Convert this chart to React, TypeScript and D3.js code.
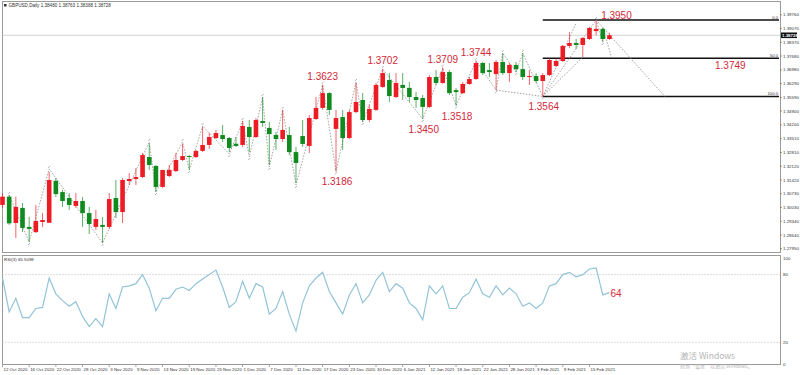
import * as d3 from "d3";
import { useEffect, useRef } from "react";

// GBPUSD daily candles (red = up, green = down)
const opens = [
  1.3016, 1.3058, 1.2925, 1.3001, 1.2905, 1.2879, 1.293, 1.2926, 1.3138, 1.3081,
  1.3051, 1.3011, 1.3036, 1.2975, 1.2905, 1.2915, 1.2905, 1.3051, 1.298, 1.3137,
  1.3147, 1.3157, 1.3258, 1.3213, 1.3107, 1.3162, 1.3187, 1.3243, 1.3263, 1.3258,
  1.3289, 1.3319, 1.3354, 1.3369, 1.3354, 1.3325, 1.3319, 1.341, 1.3359, 1.344,
  1.3405, 1.3369, 1.3349, 1.3369, 1.3283, 1.3364, 1.3314, 1.345, 1.3506, 1.3581,
  1.34, 1.346, 1.3354, 1.3485, 1.3546, 1.3445, 1.3496, 1.3612, 1.3647, 1.3561,
  1.3622, 1.3607, 1.3561, 1.3556, 1.3511, 1.3662, 1.3632, 1.3687, 1.3596, 1.3581,
  1.3627, 1.3652, 1.3733, 1.3697, 1.3677, 1.3738, 1.3682, 1.3723, 1.3702, 1.3662,
  1.3667, 1.3642, 1.3672, 1.3718, 1.3743, 1.3819, 1.3834, 1.3824, 1.3854, 1.3894,
  1.3905, 1.3854,
];
const highs = [
  1.3076, 1.3066, 1.3058, 1.3026, 1.2955, 1.3016, 1.2975, 1.3182, 1.3152, 1.3092,
  1.3076, 1.3076, 1.3056, 1.3006, 1.2991, 1.2955, 1.3076, 1.3142, 1.3152, 1.3177,
  1.3203, 1.3278, 1.3324, 1.3218, 1.3193, 1.3218, 1.3278, 1.3324, 1.3268, 1.3294,
  1.341, 1.3379, 1.3395, 1.342, 1.3359, 1.3359, 1.344, 1.3445, 1.3455, 1.3561,
  1.3435, 1.3384, 1.3496, 1.341, 1.3309, 1.3445, 1.347, 1.3561, 1.3623, 1.3586,
  1.3496, 1.3496, 1.3496, 1.3632, 1.3581, 1.3521, 1.3632, 1.3702, 1.3682, 1.3682,
  1.3682, 1.3637, 1.3586, 1.3571, 1.3672, 1.3697, 1.3709, 1.3697, 1.3607, 1.3637,
  1.3662, 1.3744, 1.3738, 1.3733, 1.3748, 1.3783, 1.3733, 1.3738, 1.3783, 1.3697,
  1.3682, 1.3682, 1.3758, 1.3758, 1.3824, 1.3889, 1.3854, 1.3864, 1.3915, 1.395,
  1.391, 1.3886,
];
const lows = [
  1.3001, 1.2915, 1.2849, 1.2879, 1.2829, 1.2874, 1.2905, 1.2925, 1.3056, 1.3006,
  1.2991, 1.3001, 1.2905, 1.2869, 1.289, 1.2824, 1.2895, 1.295, 1.2925, 1.3117,
  1.3117, 1.3152, 1.3193, 1.3081, 1.3102, 1.3157, 1.3182, 1.3238, 1.3193, 1.3253,
  1.3283, 1.3299, 1.3349, 1.3334, 1.3283, 1.3309, 1.3309, 1.3283, 1.3354, 1.341,
  1.3218, 1.3294, 1.3334, 1.3268, 1.3127, 1.3309, 1.3278, 1.3445, 1.3496, 1.347,
  1.3186, 1.3294, 1.3349, 1.348, 1.3435, 1.3435, 1.3491, 1.3607, 1.3536, 1.3556,
  1.3546, 1.3536, 1.3506, 1.345, 1.3506, 1.3622, 1.3627, 1.3571, 1.3518, 1.3576,
  1.3622, 1.3647, 1.3672, 1.3662, 1.3596, 1.3672, 1.3637, 1.3687, 1.3647, 1.3622,
  1.3632, 1.3564, 1.3667, 1.3713, 1.3738, 1.3809, 1.3804, 1.3763, 1.3849, 1.3874,
  1.3839, 1.3849,
];
const closes = [
  1.3058, 1.2923, 1.3006, 1.29, 1.2895, 1.2935, 1.294, 1.3142, 1.3071, 1.3036,
  1.3016, 1.3036, 1.2975, 1.292, 1.2945, 1.2905, 1.3046, 1.298, 1.3142, 1.3147,
  1.3157, 1.3268, 1.3218, 1.3107, 1.3193, 1.3193, 1.3243, 1.3263, 1.3258, 1.3289,
  1.3319, 1.3359, 1.3379, 1.3349, 1.3304, 1.3314, 1.3415, 1.3359, 1.3445, 1.343,
  1.3374, 1.3349, 1.3395, 1.3283, 1.3228, 1.3324, 1.3455, 1.3506, 1.3581, 1.3496,
  1.3455, 1.3354, 1.3485, 1.3536, 1.3445, 1.3501, 1.3622, 1.3682, 1.3566, 1.3632,
  1.3607, 1.3561, 1.3546, 1.3511, 1.3662, 1.3632, 1.3687, 1.3581, 1.3586, 1.3627,
  1.3652, 1.3733, 1.3682, 1.3687, 1.3738, 1.3682, 1.3723, 1.3702, 1.3662, 1.3667,
  1.3642, 1.3672, 1.3748, 1.3743, 1.3819, 1.3834, 1.3824, 1.3859, 1.391, 1.3905,
  1.3854, 1.3873,
];

// RSI line
const rsi = [
  77, 47, 59, 42, 42, 50, 51, 77, 63, 57, 52, 56, 43, 34, 41, 34, 63, 50, 69, 70,
  72, 80, 68, 48, 59, 59, 67, 69, 66, 72, 76, 80, 84, 69, 51, 56, 74, 59, 72, 69,
  45, 50, 65, 45, 30, 55, 70, 77, 82, 65, 55, 45, 62, 72, 55, 62, 75, 82, 65, 72,
  68, 55, 50, 40, 70, 63, 70, 50, 50, 60, 64, 76, 63, 60, 70, 62, 68, 63, 52, 55,
  50, 55, 70, 72, 80, 82, 78, 80, 85, 86, 62, 64,
];

// one label every 4 bars
const dateLabels = [
  "12 Oct 2020", "16 Oct 2020", "22 Oct 2020", "28 Oct 2020", "3 Nov 2020",
  "9 Nov 2020", "13 Nov 2020", "19 Nov 2020", "25 Nov 2020", "1 Dec 2020",
  "7 Dec 2020", "11 Dec 2020", "17 Dec 2020", "23 Dec 2020", "30 Dec 2020",
  "6 Jan 2021", "12 Jan 2021", "18 Jan 2021", "22 Jan 2021", "28 Jan 2021",
  "3 Feb 2021", "9 Feb 2021", "15 Feb 2021",
];

const priceTicks = [
  1.2795, 1.2864, 1.2934, 1.3003, 1.3073, 1.3142, 1.3212, 1.3281, 1.3351, 1.342,
  1.349, 1.3559, 1.3629, 1.3698, 1.3768, 1.3837, 1.3907, 1.3976,
];
const rsiLevels = [80, 20];
const rsiAxis = [100, 80, 20, 0];

// zigzag pivots [bar, price]
const pivots: [number, number][] = [
  [1, 1.3066], [4, 1.2829], [7, 1.3198], [15, 1.2824], [22, 1.3334], [23, 1.3081],
  [27, 1.3334], [28, 1.3193], [30, 1.3415], [34, 1.3273], [36, 1.344], [37, 1.3258],
  [39, 1.3561], [40, 1.3208], [42, 1.3496], [44, 1.3117], [48, 1.3623], [50, 1.3186],
  [53, 1.3637], [54, 1.3435], [57, 1.3702], [63, 1.345], [66, 1.3709], [68, 1.3518],
  [71, 1.3744], [74, 1.3596], [75, 1.3783], [77, 1.3687], [78, 1.3783], [81, 1.3564],
  [89, 1.395], [90, 1.3839],
];
// extra dotted lines [bar1, price1, bar2, price2]
const extraLines: [number, number, number, number][] = [
  [81, 1.3564, 86, 1.3935],
  [81, 1.3564, 87, 1.3763],
  [74, 1.3596, 81, 1.3564],
  [89, 1.395, 99.3, 1.3564],
  [90, 1.391, 91.3, 1.3763],
];

const swingLabels = [
  { text: "1.3950", bar: 89, price: 1.395, side: "right" },
  { text: "1.3744", bar: 71, price: 1.3744, side: "above" },
  { text: "1.3709", bar: 66, price: 1.3709, side: "above" },
  { text: "1.3702", bar: 57, price: 1.3702, side: "above" },
  { text: "1.3623", bar: 48, price: 1.3623, side: "above" },
  { text: "1.3564", bar: 81, price: 1.3564, side: "below" },
  { text: "1.3518", bar: 68, price: 1.3518, side: "below" },
  { text: "1.3450", bar: 63, price: 1.345, side: "below" },
  { text: "1.3186", bar: 50, price: 1.3186, side: "below" },
];

const fibLevels = [
  { level: "0.0", price: 1.395 },
  { level: "50.0", price: 1.3757 },
  { level: "100.0", price: 1.3564 },
];
const fibStartBar = 81;
const fibTarget = { text: "1.3749", price: 1.3749 };

const header = "GBPUSD,Daily  1.38480 1.38763 1.38388 1.38728";
const lastPrice = 1.38728;
const rsiHeader = "RSI(3) 65.5098";
const rsiLast = "64";

const W = 800;
const H = 375;
const RED = "#ec1c24";
const GREEN = "#0f8a1e";
const LABEL = "#d3283a";

export default function App() {
  const svgRef = useRef<SVGSVGElement | null>(null);

  useEffect(() => {
    const svg = d3.select(svgRef.current);
    svg.selectAll("*").remove();

    const main = { left: 2, right: 780, top: 1, bottom: 252 };
    const sub = { top: 255, bottom: 364 };

    const x = d3.scaleLinear().domain([0, 91]).range([2.5, 2.5 + 6.67 * 91]);
    const y = d3.scaleLinear().domain([1.4051, 1.2839]).range([0, 240]);
    const yr = d3.scaleLinear().domain([0, 100]).range([365, 252]);

    svg.append("rect").attr("width", W).attr("height", H).attr("fill", "#fff");

    // frames
    const frame = svg.append("g").attr("fill", "none").attr("stroke", "#9a9a9a").attr("stroke-width", 1);
    frame.append("rect").attr("x", main.left + 0.5).attr("y", main.top + 0.5)
      .attr("width", main.right - main.left).attr("height", main.bottom - main.top);
    frame.append("rect").attr("x", main.left + 0.5).attr("y", sub.top + 0.5)
      .attr("width", main.right - main.left).attr("height", sub.bottom - sub.top);

    // header
    svg.append("rect").attr("x", 4).attr("y", 4).attr("width", 2.5).attr("height", 2.5).attr("fill", "#333");
    svg.append("text").attr("x", 8.5).attr("y", 7.2).attr("font-size", 4.6)
      .attr("font-family", "Liberation Sans, Arial, sans-serif").attr("fill", "#333").text(header);

    // price axis
    const axis = svg.append("g").attr("font-family", "Liberation Sans, Arial, sans-serif")
      .attr("font-size", 4.4).attr("fill", "#333");
    priceTicks.forEach((p) => {
      const yy = y(p);
      if (Math.abs(yy - y(lastPrice)) < 5) return;
      axis.append("line").attr("x1", main.right).attr("x2", main.right + 2)
        .attr("y1", yy).attr("y2", yy).attr("stroke", "#666").attr("stroke-width", 0.6);
      axis.append("text").attr("x", main.right + 3).attr("y", yy + 1.5).text(p.toFixed(5));
    });

    // bid line
    svg.append("line").attr("x1", main.left).attr("x2", main.right)
      .attr("y1", y(lastPrice)).attr("y2", y(lastPrice)).attr("stroke", "#c8c8c8").attr("stroke-width", 0.8);
    svg.append("rect").attr("x", main.right + 1).attr("y", y(lastPrice) - 2.8)
      .attr("width", 16).attr("height", 5.6).attr("fill", "#111");
    svg.append("text").attr("x", main.right + 2).attr("y", y(lastPrice) + 1.6).attr("font-size", 4.4)
      .attr("font-family", "Liberation Sans, Arial, sans-serif").attr("font-weight", "bold")
      .attr("fill", "#fff").text(lastPrice.toFixed(5));

    // fibonacci lines
    fibLevels.forEach((f) => {
      svg.append("line").attr("x1", x(fibStartBar)).attr("x2", main.right - 1)
        .attr("y1", y(f.price)).attr("y2", y(f.price)).attr("stroke", "#111").attr("stroke-width", 1.6);
      svg.append("text").attr("x", main.right - 2).attr("y", y(f.price) - 1.5).attr("text-anchor", "end")
        .attr("font-size", 4.2).attr("font-family", "Liberation Sans, Arial, sans-serif")
        .attr("fill", "#333").text(f.level);
    });

    // zigzag and dotted lines
    const line = d3.line<[number, number]>().x((d) => x(d[0])).y((d) => y(d[1]));
    svg.append("path").datum(pivots).attr("d", line).attr("fill", "none")
      .attr("stroke", "#8a8a8a").attr("stroke-width", 0.8).attr("stroke-dasharray", "1.5,1.5");
    extraLines.forEach((l) => {
      svg.append("line").attr("x1", x(l[0])).attr("y1", y(l[1])).attr("x2", x(l[2])).attr("y2", y(l[3]))
        .attr("stroke", "#8a8a8a").attr("stroke-width", 0.8).attr("stroke-dasharray", "1.5,1.5");
    });
    pivots.forEach((p, i) => {
      const up = i > 0 ? p[1] > pivots[i - 1][1] : p[1] > pivots[1][1];
      const yy = y(p[1]) + (up ? -2 : 2);
      svg.append("path").attr("d", `M${x(p[0]) - 1},${yy + 1} L${x(p[0]) + 1},${yy - 1}`)
        .attr("stroke", "#777").attr("stroke-width", 0.6);
    });

    // candles
    const candles = svg.append("g");
    opens.forEach((o, i) => {
      const c = closes[i];
      const col = c >= o ? RED : GREEN;
      const cx = x(i);
      candles.append("line").attr("x1", cx).attr("x2", cx).attr("y1", y(highs[i])).attr("y2", y(lows[i]))
        .attr("stroke", col).attr("stroke-width", 0.9).attr("opacity", 0.75);
      const top = y(Math.max(o, c));
      const h = Math.max(1, Math.abs(y(o) - y(c)));
      candles.append("rect").attr("x", cx - 2.3).attr("y", top).attr("width", 4.6).attr("height", h)
        .attr("fill", col);
    });

    // swing labels
    const labels = svg.append("g").attr("font-family", "Liberation Sans, Arial, sans-serif")
      .attr("font-size", 10).attr("fill", LABEL);
    swingLabels.forEach((s) => {
      const px = x(s.bar);
      const py = y(s.price);
      if (s.side === "right") labels.append("text").attr("x", px + 5).attr("y", py - 1).text(s.text);
      else if (s.side === "above") labels.append("text").attr("x", px).attr("y", py - 5)
        .attr("text-anchor", "middle").text(s.text);
      else labels.append("text").attr("x", px + 1).attr("y", py + 14)
        .attr("text-anchor", "middle").text(s.text);
    });
    labels.append("text").attr("x", 715).attr("y", y(fibTarget.price) + 9).text(fibTarget.text);

    // RSI panel
    rsiLevels.forEach((lv) => {
      svg.append("line").attr("x1", main.left).attr("x2", main.right).attr("y1", yr(lv)).attr("y2", yr(lv))
        .attr("stroke", "#c8c8c8").attr("stroke-width", 0.6).attr("stroke-dasharray", "2,1");
    });
    rsiAxis.forEach((lv) => {
      axis.append("text").attr("x", main.right + 3).attr("y", Math.min(Math.max(yr(lv), 258), 364) + 1.5)
        .text(String(lv));
    });
    svg.append("text").attr("x", 4).attr("y", 260.5).attr("font-size", 4.4)
      .attr("font-family", "Liberation Sans, Arial, sans-serif").attr("fill", "#333").text(rsiHeader);
    const rsiLine = d3.line<number>().x((_, i) => x(i)).y((d) => yr(d));
    svg.append("path").datum(rsi).attr("d", rsiLine).attr("fill", "none")
      .attr("stroke", "#93c3d8").attr("stroke-width", 1.2);
    labels.append("text").attr("x", x(rsi.length - 1) + 1).attr("y", yr(rsi[rsi.length - 1]) + 4).text(rsiLast);

    // date axis
    dateLabels.forEach((d, k) => {
      const xx = x(k * 4);
      axis.append("line").attr("x1", xx).attr("x2", xx).attr("y1", sub.bottom + 1).attr("y2", sub.bottom + 3)
        .attr("stroke", "#666").attr("stroke-width", 0.6);
      axis.append("text").attr("x", xx + 1).attr("y", 371).text(d);
    });

    // watermark
    svg.append("text").attr("x", 680).attr("y", 358.5).attr("font-size", 8.5)
      .attr("font-family", "Noto Sans CJK SC, sans-serif").attr("fill", "#b4b4b4").text("激活 Windows");
    svg.append("text").attr("x", 680).attr("y", 367.5).attr("font-size", 5)
      .attr("font-family", "Noto Sans CJK SC, sans-serif").attr("fill", "#b4b4b4")
      .text("转到“设置”以激活 Windows。");
  }, []);

  return (
    <svg ref={svgRef} width={W} height={H} style={{ position: "absolute", left: 0, top: 0 }} />
  );
}
